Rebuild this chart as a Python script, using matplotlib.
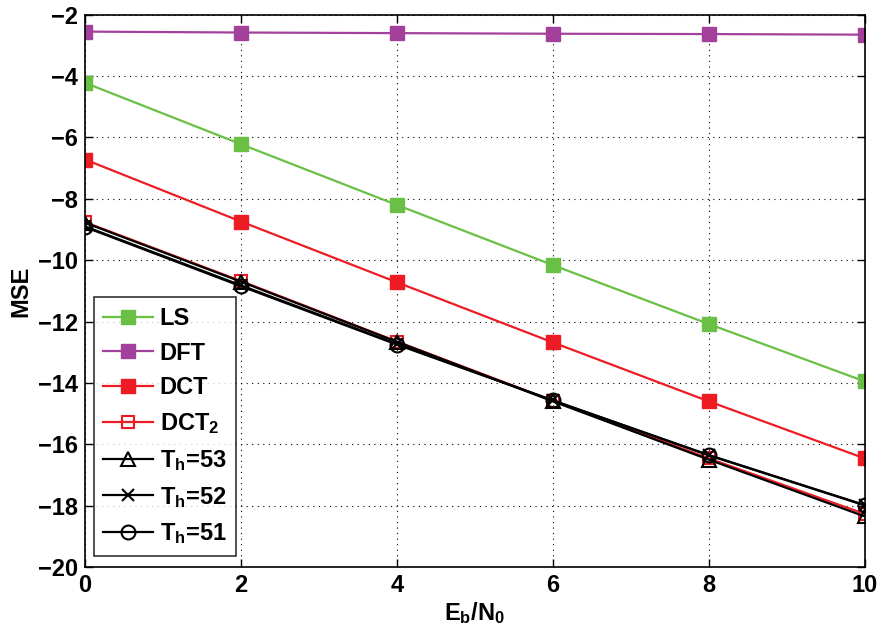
import matplotlib
matplotlib.use("Agg")
import matplotlib.pyplot as plt

plt.rcParams['font.family'] = 'Liberation Sans'
plt.rcParams['font.weight'] = 'bold'
plt.rcParams['mathtext.fontset'] = 'custom'
plt.rcParams['mathtext.rm'] = 'Liberation Sans:bold'
plt.rcParams['mathtext.bf'] = 'Liberation Sans:bold'
plt.rcParams['mathtext.it'] = 'Liberation Sans:bold'

# Eb/N0 values
ebn0 = [0, 2, 4, 6, 8, 10]

# MSE curves
mse_ls = [-4.22, -6.22, -8.2, -10.16, -12.08, -13.95]
mse_dft = [-2.55, -2.58, -2.6, -2.62, -2.63, -2.65]
mse_dct = [-6.72, -8.74, -10.72, -12.68, -14.6, -16.46]
mse_dct2 = [-8.76, -10.68, -12.65, -14.58, -16.46, -18.27]
mse_th53 = [-8.78, -10.7, -12.66, -14.6, -16.5, -18.35]
mse_th52 = [-8.9, -10.82, -12.73, -14.57, -16.36, -17.99]
mse_th51 = [-8.92, -10.85, -12.75, -14.57, -16.35, -17.98]

green = '#6abf45'
purple = '#a3409c'
red = '#ed1c24'

fig = plt.figure(figsize=(8.77, 6.4), dpi=100)
ax = fig.add_axes([0.097, 0.114, 0.889, 0.863])

ax.plot(ebn0, mse_ls, '-s', color=green, lw=1.6, ms=10, mfc=green, mec=green, label='LS')
ax.plot(ebn0, mse_dft, '-s', color=purple, lw=1.6, ms=10, mfc=purple, mec=purple, label='DFT')
ax.plot(ebn0, mse_dct, '-s', color=red, lw=1.6, ms=10, mfc=red, mec=red, label='DCT')
ax.plot(ebn0, mse_dct2, '-s', color=red, lw=1.6, ms=8, mfc='none', mec=red, mew=1.5,
        label=r'DCT$_{\mathbf{2}}$')
ax.plot(ebn0, mse_th53, '-^', color='black', lw=1.6, ms=10, mfc='none', mew=1.5,
        label=r'T$_{\mathbf{h}}$=53')
ax.plot(ebn0, mse_th52, '-x', color='black', lw=1.6, ms=9, mew=1.5,
        label=r'T$_{\mathbf{h}}$=52')
ax.plot(ebn0, mse_th51, '-o', color='black', lw=1.6, ms=10, mfc='none', mew=1.5,
        label=r'T$_{\mathbf{h}}$=51')

ax.set_xlim(0, 10)
ax.set_ylim(-20, -2)
ax.set_xticks([0, 2, 4, 6, 8, 10])
ax.set_yticks(range(-20, -1, 2))
ax.grid(True, linestyle=(0, (1, 4)), color='black', lw=0.8)
ax.tick_params(direction='in', top=True, right=True, labelsize=17, length=6, width=1, pad=5)
for lab in ax.get_xticklabels() + ax.get_yticklabels():
    lab.set_fontweight('bold')
for sp in ax.spines.values():
    sp.set_linewidth(1.2)

ax.set_xlabel(r'E$_{\mathbf{b}}$/N$_{\mathbf{0}}$', fontsize=17, fontweight='bold', labelpad=2)
ax.set_ylabel('MSE', fontsize=17, fontweight='bold', labelpad=4)

leg = ax.legend(loc='lower left', bbox_to_anchor=(0.005, 0.012), fontsize=17,
                frameon=True, fancybox=False, edgecolor='black', handlelength=2.1,
                labelspacing=0.5, borderpad=0.4, handletextpad=0.3, borderaxespad=0.2)
leg.get_frame().set_linewidth(1.2)

fig.savefig('out.png', dpi=100)
